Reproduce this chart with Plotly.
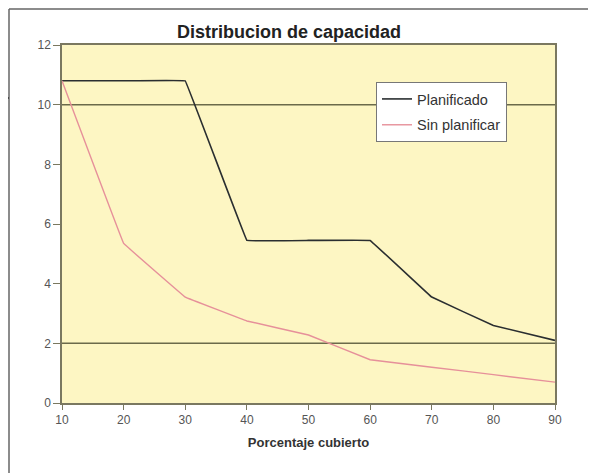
import plotly.graph_objects as go

x_vals = [10, 20, 30, 40, 50, 60, 70, 80, 90]
planificado = [10.8, 10.8, 10.8, 5.45, 5.45, 5.45, 3.55, 2.6, 2.1]
sin_planificar = [10.8, 5.35, 3.55, 2.75, 2.28, 1.45, 1.2, 0.95, 0.7]
ref_lines = [2, 10]

OFF = 8  # page body margin in the browser
W, H = 596 - OFF, 473 - OFF

fig = go.Figure()
fig.add_trace(go.Scatter(x=x_vals, y=planificado, name="Planificado", mode="lines", legendgroup="a",
                         line=dict(color="#2a2e30", width=1.6, shape="spline", smoothing=0.05)))
fig.add_trace(go.Scatter(x=x_vals, y=sin_planificar, name="Sin planificar", mode="lines", legendgroup="b",
                         line=dict(color="#e6909a", width=1.4, shape="spline", smoothing=0.05)))

for v in ref_lines:
    fig.add_hline(y=v, line=dict(color="#6b6a4a", width=1.5), layer="below")

axis_color = "#7a7860"
fig.update_layout(
    width=W, height=H,
    margin=dict(l=62 - OFF, r=W - (555 - OFF), t=45 - OFF, b=H - (403 - OFF), autoexpand=False),
    paper_bgcolor="white",
    plot_bgcolor="#fdf6c3",
    title=dict(text="<b>Distribucion de capacidad</b>", x=(289 - OFF) / W, xanchor="center",
               y=1 - (32 - OFF) / H, yanchor="middle",
               font=dict(family="Liberation Sans, Arial", size=18, color="#222")),
    font=dict(family="Liberation Sans, Arial", size=12, color="#555"),
    showlegend=True,
    legend=dict(x=(376 - 62) / 493, xref="paper", y=(403 - 82) / 358, yref="paper",
                xanchor="left", yanchor="top", traceorder="grouped", tracegroupgap=4,
                bgcolor="white", bordercolor="#777", borderwidth=1,
                font=dict(size=14.5, color="#333")),
    xaxis=dict(range=[10, 90], tickvals=x_vals, showgrid=False, zeroline=False,
               showline=True, linecolor=axis_color, linewidth=1.5, mirror=True,
               ticks="outside", ticklen=5, tickcolor=axis_color,
               title=dict(text="<b>Porcentaje cubierto</b>", font=dict(size=13, color="#333"),
                          standoff=12)),
    yaxis=dict(range=[0, 12], dtick=2, showgrid=False, zeroline=False,
               showline=True, linecolor=axis_color, linewidth=1.5, mirror=True,
               ticks="outside", ticklen=7, tickcolor=axis_color),
)

frame_color = "#666666"
fy = 1 + (45 - 9) / 358
fx = -(62 - 9) / 493
fig.add_shape(type="line", xref="paper", yref="paper", x0=fx, x1=1.2, y0=fy, y1=fy,
              line=dict(color=frame_color, width=1.5))
fig.add_shape(type="line", xref="paper", yref="paper", x0=fx, x1=fx, y0=fy, y1=-0.3,
              line=dict(color=frame_color, width=1.5))
fig.add_shape(type="line", xref="paper", yref="paper", x0=-0.2, x1=fx, y0=(403 - 98) / 358, y1=(403 - 98) / 358,
              line=dict(color="#333", width=1.5))

fig.write_html("out.html")
